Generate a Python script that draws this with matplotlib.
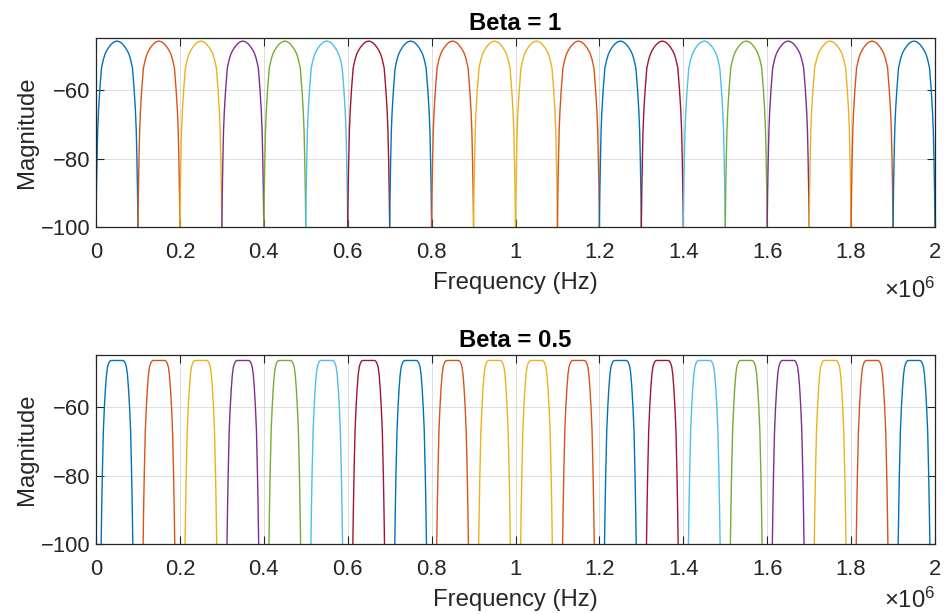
import matplotlib
matplotlib.use("Agg")
import matplotlib.pyplot as plt
import numpy as np

plt.rcParams['font.family'] = ['Liberation Sans', 'DejaVu Sans']
plt.rcParams['mathtext.fontset'] = 'custom'
plt.rcParams['mathtext.rm'] = 'Liberation Sans'
plt.rcParams['mathtext.it'] = 'Liberation Sans:italic'

# ---- data ----
titles = ["Beta = 1", "Beta = 0.5"]
channel_centers_hz = [50e3, 150e3, 250e3, 350e3, 450e3, 550e3, 650e3, 750e3, 850e3, 950e3,
                      1050e3, 1150e3, 1250e3, 1350e3, 1450e3, 1550e3, 1650e3, 1750e3, 1850e3, 1950e3]
channel_half_width_hz = 50e3
channel_color_index = [0, 1, 2, 3, 4, 5, 6, 0, 1, 2, 2, 1, 0, 6, 5, 4, 3, 2, 1, 0]

# lobe profile: offset from channel centre (fraction of half width) and magnitude (dB)
beta1_offset = [0.0, 0.1, 0.2, 0.3, 0.4, 0.5, 0.57, 0.65, 0.74, 0.82, 0.88, 0.92, 0.95, 0.98, 1.0]
beta1_mag = [-45.7, -45.85, -46.2, -46.8, -47.6, -48.6, -49.5, -51.1, -53.6, -60.0, -66.0, -72.0, -80.0, -90.0, -100.0]

beta05_offset = [0.0, 0.28, 0.32, 0.36, 0.40, 0.45, 0.50, 0.55, 0.60, 0.65, 0.70, 0.73, 0.755]
beta05_mag = [-46.4, -46.4, -46.5, -46.8, -47.3, -48.3, -50.6, -54.6, -60.0, -67.0, -80.0, -90.0, -100.0]

profiles = [(beta1_offset, beta1_mag), (beta05_offset, beta05_mag)]

xticks_hz = [0, 0.2e6, 0.4e6, 0.6e6, 0.8e6, 1.0e6, 1.2e6, 1.4e6, 1.6e6, 1.8e6, 2.0e6]
xtick_labels = ["0", "0.2", "0.4", "0.6", "0.8", "1", "1.2", "1.4", "1.6", "1.8", "2"]
yticks = [-100, -80, -60]

colors = ['#0072BD', '#D95319', '#EDB120', '#7E2F8E', '#77AC30', '#4DBEEE', '#A2142F']
axc = '#262626'

W, H = 946, 614
fig = plt.figure(figsize=(W / 100, H / 100), dpi=100)

axes_px = [(96, 38, 935, 227), (96, 355, 935, 544)]
exp_y = [-0.40, -0.365]
for k, (l, t, r, b) in enumerate(axes_px):
    ax = fig.add_axes([l / W, 1 - b / H, (r - l) / W, (b - t) / H])
    off, mag = profiles[k]
    off = np.array(off)
    mag = np.array(mag)
    xo = np.concatenate([-off[::-1], off[1:]])
    ym = np.concatenate([mag[::-1], mag[1:]])
    for c, ci in zip(channel_centers_hz, channel_color_index):
        ax.plot(c + xo * channel_half_width_hz, ym, color=colors[ci], lw=1.0)
    ax.set_xlim(0, 2e6)
    ax.set_ylim(-100, -44.8)
    ax.set_xticks(xticks_hz)
    ax.set_xticklabels(xtick_labels)
    ax.set_yticks(yticks)
    ax.grid(True, color=axc, alpha=0.15, lw=0.7)
    ax.set_axisbelow(True)
    for s in ax.spines.values():
        s.set_color(axc)
        s.set_linewidth(0.9)
    ax.tick_params(direction='in', length=6, width=0.8, colors=axc, labelsize=15.8,
                   top=True, right=True, pad=10.5)
    ax.tick_params(axis='y', pad=4)
    ax.set_xlabel("Frequency (Hz)", fontsize=17.2, color=axc, labelpad=6.5)
    ax.set_ylabel("Magnitude", fontsize=17.2, color=axc, labelpad=2)
    ax.set_title(titles[k], fontsize=17.2, fontweight='bold', color='black', pad=6)
    ax.text(1.0, exp_y[k], r'$\times\mathregular{10^6}$', transform=ax.transAxes,
            ha='right', va='bottom', fontsize=17.2, color=axc)

fig.savefig("out.png", dpi=100)
